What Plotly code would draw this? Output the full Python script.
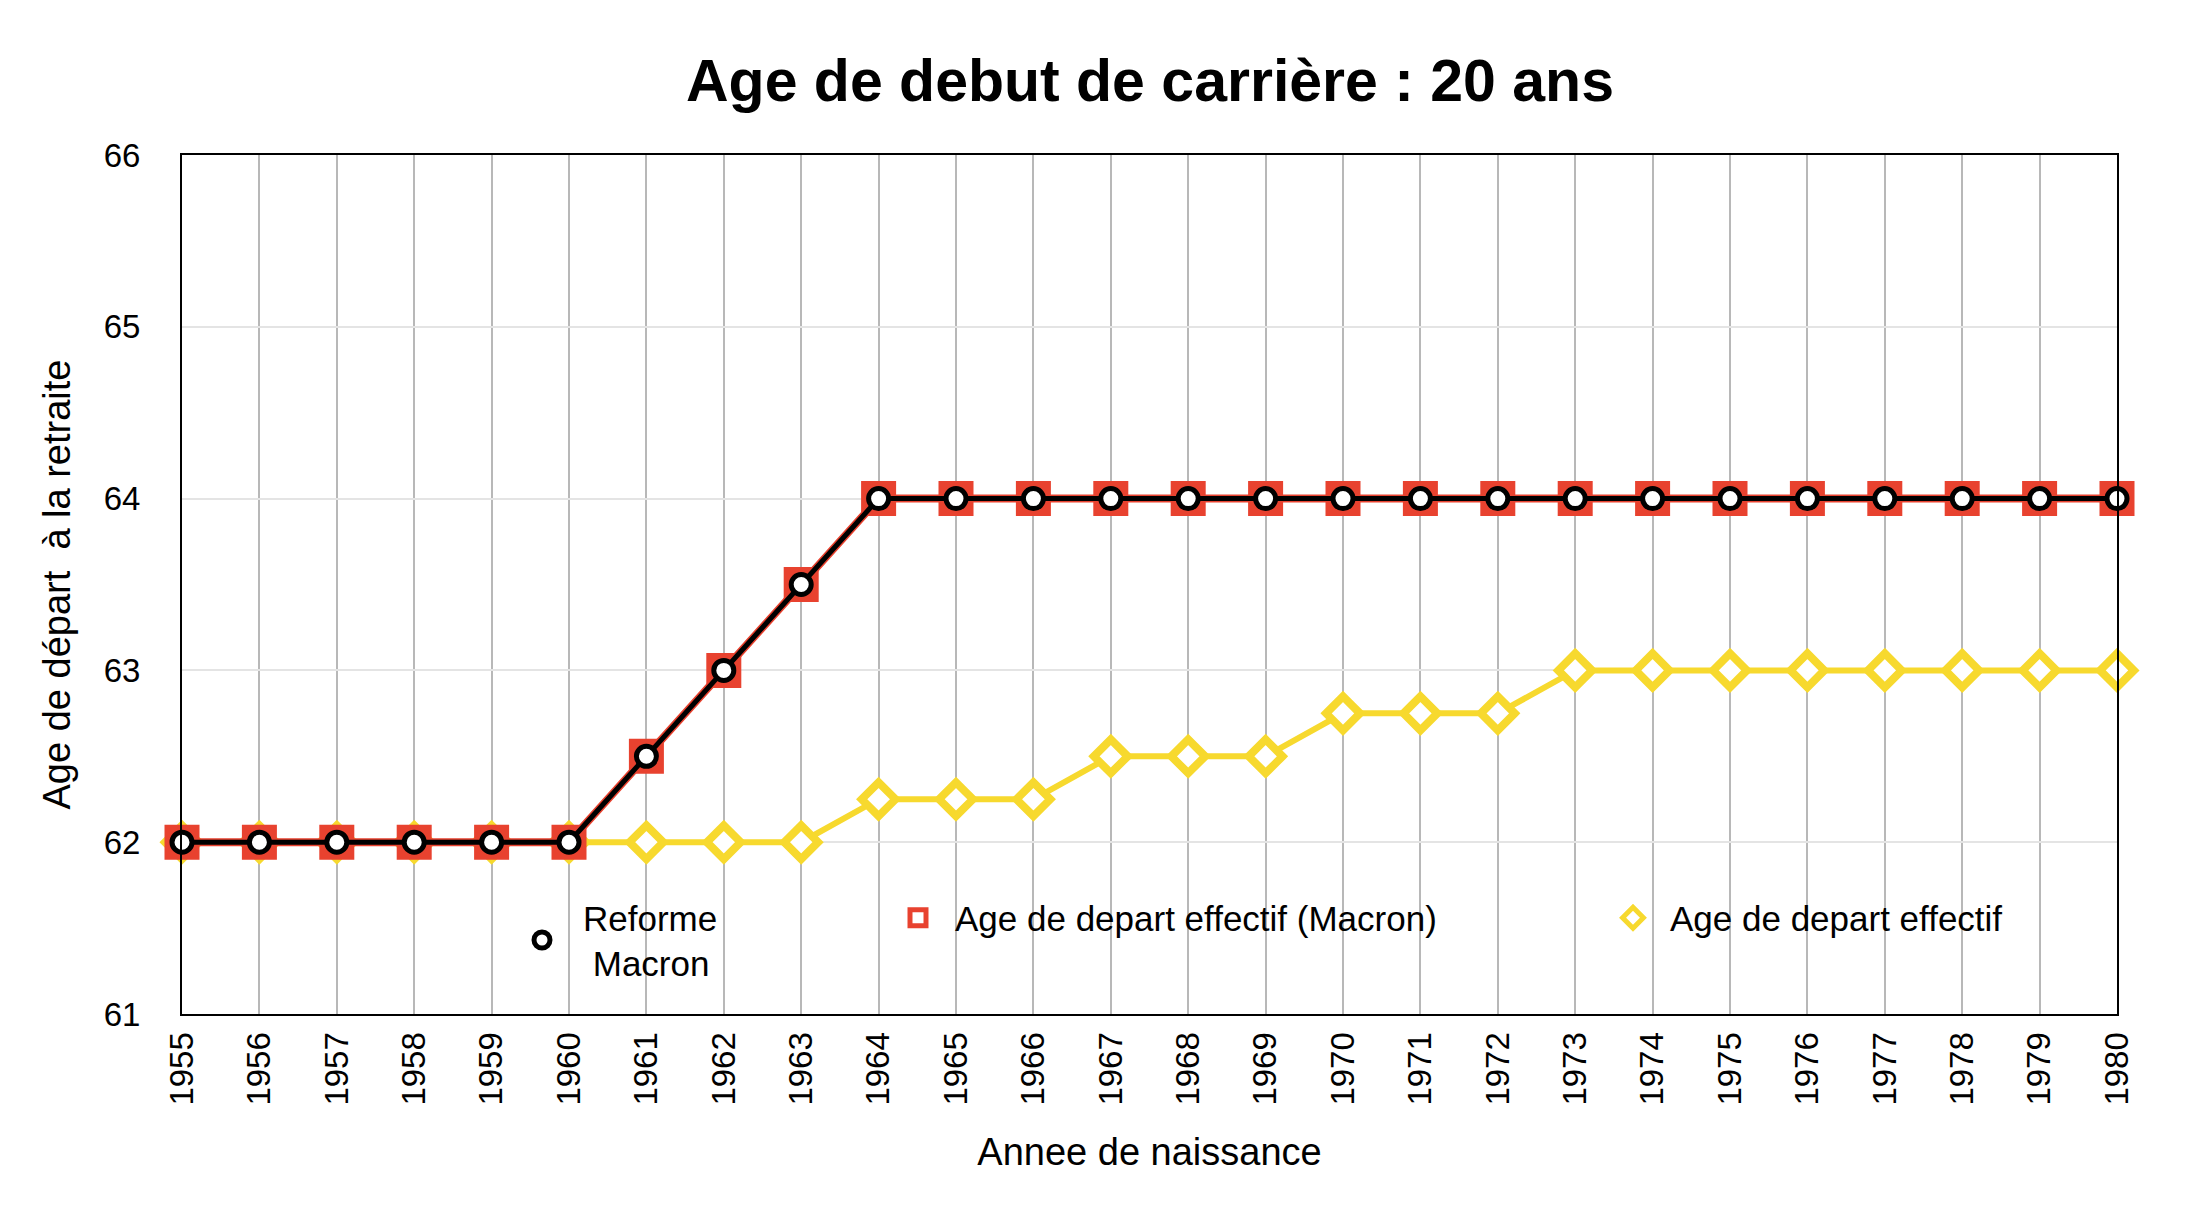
import plotly.graph_objects as go

# ---- data ----
years = list(range(1955, 1981))
reforme_macron = [62, 62, 62, 62, 62, 62, 62.5, 63, 63.5, 64, 64, 64, 64, 64, 64, 64, 64, 64,
                  64, 64, 64, 64, 64, 64, 64, 64]
depart_effectif_macron = [62, 62, 62, 62, 62, 62, 62.5, 63, 63.5, 64, 64, 64, 64, 64, 64, 64, 64, 64,
                          64, 64, 64, 64, 64, 64, 64, 64]
depart_effectif = [62, 62, 62, 62, 62, 62, 62, 62, 62, 62.25, 62.25, 62.25, 62.5, 62.5, 62.5,
                   62.75, 62.75, 62.75, 63, 63, 63, 63, 63, 63, 63, 63]
y_ticks = [61, 62, 63, 64, 65, 66]

name_black = "Reforme<br>\u00a0Macron"
name_red = "Age de depart effectif (Macron)"
name_yellow = "Age de depart effectif"

title_text = "Age de debut de carrière : 20 ans"
x_title = "Annee de naissance"
y_title = "Age de départ\u00a0 à la retraite"

FONT = "Liberation Sans, Arial, Helvetica, sans-serif"
RED = "#E8422F"
YELLOW = "#F7D92E"
BLACK = "#000000"

OFF = 8  # page body margin
W, H = 2184, 1213
# plot area in screenshot coordinates
SX0, SX1, SY0, SY1 = 182, 2117, 155, 1014
L, T = SX0 - OFF, SY0 - OFF
R, B = W - (SX1 - OFF), H - (SY1 - OFF)
PW, PH = W - L - R, H - T - B


def px_x(px):
    return (px - OFF - L) / PW


def px_y(py):
    return (H - B - (py - OFF)) / PH


fig = go.Figure()

# yellow
fig.add_trace(go.Scatter(x=years, y=depart_effectif, mode="lines",
                         line=dict(color=YELLOW, width=6), showlegend=False,
                         cliponaxis=False, hoverinfo="skip"))
fig.add_trace(go.Scatter(x=years, y=depart_effectif, mode="markers", name=name_yellow,
                         marker=dict(symbol="diamond", size=26, color="white",
                                     line=dict(color=YELLOW, width=8)),
                         cliponaxis=False, legend="legend3"))
# red
fig.add_trace(go.Scatter(x=years, y=depart_effectif_macron, mode="lines",
                         line=dict(color=RED, width=8), showlegend=False,
                         cliponaxis=False, hoverinfo="skip"))
fig.add_trace(go.Scatter(x=years, y=depart_effectif_macron, mode="markers", name=name_red,
                         marker=dict(symbol="square", size=24, color="white",
                                     line=dict(color=RED, width=11)),
                         cliponaxis=False, legend="legend2"))
# black
fig.add_trace(go.Scatter(x=years, y=reforme_macron, mode="lines",
                         line=dict(color=BLACK, width=5), showlegend=False,
                         cliponaxis=False, hoverinfo="skip"))
fig.add_trace(go.Scatter(x=years, y=reforme_macron, mode="markers", name=name_black,
                         marker=dict(symbol="circle", size=20, color="white",
                                     line=dict(color=BLACK, width=5)),
                         cliponaxis=False, legend="legend"))

legend_common = dict(bgcolor="rgba(0,0,0,0)", borderwidth=0,
                     font=dict(family=FONT, size=35, color="black"),
                     xref="paper", yref="paper", xanchor="left", yanchor="middle",
                     orientation="h")

fig.update_layout(
    width=W, height=H, autosize=False,
    margin=dict(l=L, r=R, t=T, b=B, pad=0),
    paper_bgcolor="white", plot_bgcolor="white",
    font=dict(family=FONT, color="black"),
    title=dict(text=title_text, font=dict(family=FONT, size=59, color="black", weight="bold"),
               x=px_x(1150), xref="paper", xanchor="center",
               y=1 - (80 - OFF) / H, yref="container", yanchor="middle"),
    xaxis=dict(range=[1955, 1980], tickmode="array", tickvals=years,
               ticktext=[str(y) for y in years], tickangle=-90,
               tickfont=dict(family=FONT, size=33, color="black"),
               showgrid=True, gridcolor="#b8b8b8", gridwidth=2,
               showline=True, linecolor="black", linewidth=2, mirror=True,
               zeroline=False, ticks="", ticklabelstandoff=3,
               title=dict(text=x_title, font=dict(family=FONT, size=38, color="black"),
                          standoff=34),
               automargin=False),
    yaxis=dict(range=[61, 66], tickmode="array", tickvals=y_ticks,
               tickfont=dict(family=FONT, size=33, color="black"),
               showgrid=True, gridcolor="#e4e4e4", gridwidth=2,
               showline=True, linecolor="black", linewidth=2, mirror=True,
               zeroline=False, ticks="", ticklabelstandoff=33,
               title=dict(text=y_title, font=dict(family=FONT, size=38, color="black"),
                          standoff=21),
               automargin=False),
    legend=dict(**legend_common, itemwidth=72, x=px_x(542 - 41), y=px_y(940)),
    legend2=dict(**legend_common, itemwidth=64, x=px_x(918 - 37), y=px_y(918)),
    legend3=dict(**legend_common, itemwidth=64, x=px_x(1633 - 37), y=px_y(918)),
)

fig.write_html("out.html")
